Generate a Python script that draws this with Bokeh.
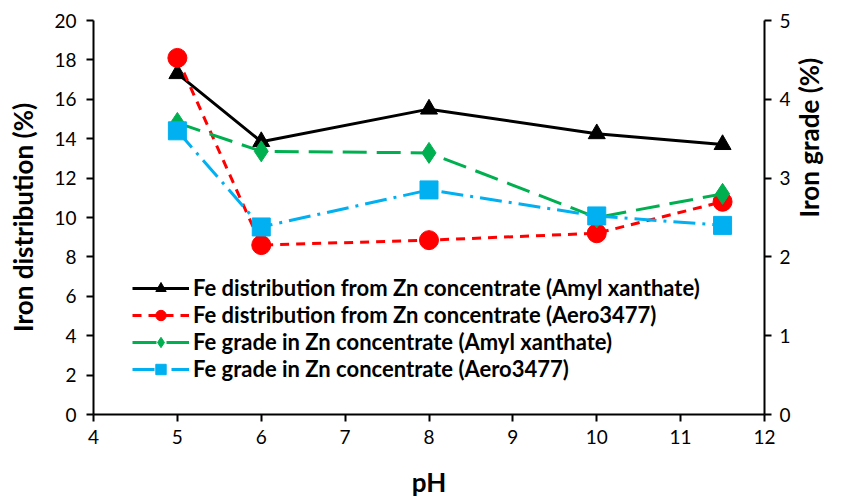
import math
from bokeh.plotting import figure
from bokeh.models import Range1d, LinearAxis, Legend, LegendItem, FixedTicker
from bokeh.embed import file_html
from bokeh.resources import INLINE

# Data
ph = [5, 6, 8, 10, 11.5]
dist_amyl = [17.3, 13.85, 15.5, 14.25, 13.7]
dist_aero = [18.1, 8.6, 8.85, 9.2, 10.8]
grade_amyl = [3.7, 3.34, 3.32, 2.5, 2.8]
grade_aero = [3.6, 2.38, 2.85, 2.52, 2.4]

labels = [
    "Fe distribution from Zn concentrate (Amyl xanthate)",
    "Fe distribution from Zn concentrate (Aero3477)",
    "Fe grade in Zn concentrate (Amyl xanthate)",
    "Fe grade in Zn concentrate (Aero3477)",
]

FONT = "Lato"

p = figure(width=843, height=500, output_backend="svg", toolbar_location=None,
           x_range=Range1d(4, 12), y_range=Range1d(0, 20),
           min_border_left=93, min_border_right=74, min_border_top=20, min_border_bottom=84)
p.extra_y_ranges = {"grade": Range1d(0, 5)}
p.outline_line_color = None
p.xgrid.visible = False
p.ygrid.visible = False
p.background_fill_color = "white"

def style_axis(ax):
    ax.axis_line_width = 2
    ax.axis_line_color = "black"
    ax.major_tick_line_width = 2
    ax.major_tick_line_color = "black"
    ax.major_tick_out = 7
    ax.major_tick_in = 0
    ax.minor_tick_line_color = None
    ax.major_label_text_font = FONT
    ax.major_label_text_font_size = "19px"
    ax.major_label_text_color = "black"
    ax.axis_label_text_font = FONT
    ax.axis_label_text_font_style = "bold"
    ax.axis_label_text_font_size = "26px"
    ax.axis_label_text_color = "black"

p.xaxis.ticker = FixedTicker(ticks=list(range(4, 13)))
p.yaxis.ticker = FixedTicker(ticks=list(range(0, 21, 2)))
p.xaxis.axis_label = "pH"
p.yaxis.axis_label = "Iron distribution (%)"
style_axis(p.xaxis[0])
style_axis(p.yaxis[0])
p.xaxis.major_label_standoff = 8
p.xaxis.axis_label_standoff = 19
p.yaxis.major_label_standoff = 10
p.yaxis.axis_label_standoff = 12

ax2 = LinearAxis(y_range_name="grade", axis_label="Iron grade (%)",
                 ticker=FixedTicker(ticks=[0, 1, 2, 3, 4, 5]))
style_axis(ax2)
ax2.major_label_standoff = 8
ax2.axis_label_standoff = 15
ax2.axis_label_orientation = math.pi / 2
p.add_layout(ax2, "right")

l1 = p.line(ph, dist_amyl, line_color="black", line_width=3)
s1 = p.scatter(ph, dist_amyl, marker="triangle", size=17, color="black")
l2 = p.line(ph, dist_aero, line_color="#ff0000", line_width=3, line_dash="9 7")
s2 = p.scatter(ph, dist_aero, marker="circle", size=19, color="#ff0000")
l3 = p.line(ph, grade_amyl, line_color="#00b050", line_width=3, line_dash="24 10", y_range_name="grade")
s3 = p.scatter(ph, grade_amyl, marker="diamond", size=21, color="#00b050", y_range_name="grade")
l4 = p.line(ph, grade_aero, line_color="#00b0f0", line_width=3, line_dash="22 7 3 7", y_range_name="grade")
s4 = p.scatter(ph, grade_aero, marker="square", size=18, color="#00b0f0", y_range_name="grade")

legend = Legend(items=[
    LegendItem(label=labels[0], renderers=[l1, s1]),
    LegendItem(label=labels[1], renderers=[l2, s2]),
    LegendItem(label=labels[2], renderers=[l3, s3]),
    LegendItem(label=labels[3], renderers=[l4, s4]),
], location=(39, 32))
legend.border_line_color = None
legend.background_fill_alpha = 0
legend.label_text_font = FONT
legend.label_text_font_style = "bold"
legend.label_text_font_size = "22px"
legend.label_text_color = "black"
legend.label_text_line_height = 1.1
legend.glyph_width = 57
legend.glyph_height = 26
legend.label_height = 26
legend.spacing = 0
legend.label_standoff = 4
legend.padding = 5
p.add_layout(legend, "center")

open("out.html", "w").write(file_html(p, INLINE))
